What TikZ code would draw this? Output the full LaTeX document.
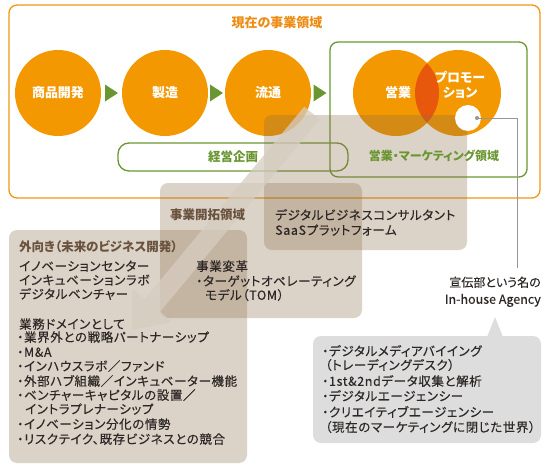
\documentclass[tikz,border=0pt]{standalone}
\usepackage{fontspec}
\setmainfont{Noto Sans CJK JP}[RawFeature={+palt}]
\newfontfamily\jpmed{Noto Sans CJK JP}[RawFeature={+palt}, FakeBold=0.35, LetterSpace=5]
\newfontfamily\jpplain{Noto Sans CJK JP}[RawFeature={+palt}, FakeBold=0.35]
\usetikzlibrary{calc}
\definecolor{orng}{RGB}{243,152,0}
\definecolor{orngline}{RGB}{240,150,20}
\definecolor{orngtxt}{RGB}{236,140,20}
\definecolor{lens}{RGB}{232,88,12}
\definecolor{grn}{RGB}{106,150,50}
\definecolor{boxc}{RGB}{140,109,74}
\definecolor{arrowc}{RGB}{214,204,192}
\definecolor{brn}{RGB}{105,82,62}
\definecolor{txt}{RGB}{45,40,38}
\definecolor{callc}{RGB}{221,221,221}
\definecolor{lgray}{RGB}{150,150,150}
\begin{document}
\begin{tikzpicture}[x=1pt,y=-1pt,
  circ/.style={circle, fill=orng, minimum size=86pt, inner sep=0pt},
  ctext/.style={inner sep=0pt, text=white, font=\bfseries\fontsize{13}{15.5}\selectfont, align=center},
  grnbox/.style={draw=grn, line width=1.3pt, rounded corners=8pt},
  glbl/.style={inner sep=0pt, text=grn, font=\bfseries\fontsize{12.5}{14}\selectfont},
  tbox/.style={fill=boxc, fill opacity=0.3, rounded corners=8pt},
  body/.style={inner sep=0pt, anchor=west, text height=0.88em, text depth=0.12em, text=txt, font=\jpmed\fontsize{12.5}{14}\selectfont},
  head/.style={body, text=brn, font=\bfseries\fontsize{12.5}{14}\selectfont},
  tri/.style={fill=grn}
]
\useasboundingbox (0,0) rectangle (550,469);

% current business area frame
\draw[orngline, line width=1.3pt, rounded corners=8pt] (9,5) rectangle (540,198);
\node[inner sep=0pt, text=orngtxt, font=\bfseries\fontsize{13}{15}\selectfont] (title) at (277,23) {現在の事業領域};

% circles
\node[circ] (c1) at (58,93) {};
\node[circ] (c2) at (165,93) {};
\node[circ] (c3) at (268,93) {};
\node[circ] (c4) at (396,93) {};
\node[circ] (c5) at (458,93) {};
\begin{scope}
  \clip (396,93) circle (43pt);
  \fill[lens] (458,93) circle (43pt);
\end{scope}

% green frames
\draw[grnbox] (330,42) rectangle (527,177);
\draw[grnbox, rounded corners=11pt] (118,143) rectangle (348,171);

% triangles
\coordinate (m1) at ($(c1.east)!0.5!(c2.west)$);
\coordinate (m2) at ($(c2.east)!0.5!(c3.west)$);
\coordinate (m3) at (320,93);
\foreach \m in {m1,m2,m3}{
  \fill[tri] (\m) ++(-6.5,-8.5) -- ++(13,8.5) -- ++(-13,8.5) -- cycle;
}

% circle labels
\node[ctext] (t1) at (c1) {商品開発};
\node[ctext] (t2) at (c2) {製造};
\node[ctext] (t3) at (c3) {流通};
\node[ctext] (t4) at (398,93) {営業};
\node[ctext] (t5) at (460,85) {プロモー\\ション};

% translucent boxes
\fill[tbox] (264,115) rectangle (467,250);
\fill[tbox] (160,183) rectangle (362,318);
\fill[tbox] (9,230) rectangle (247,463);

% big arrow
\fill[arrowc, fill opacity=0.75] (319.7,119.4) -- (160.1,311.8) -- (172.4,322.0) -- (132,330) -- (132.4,288.8) -- (144.7,299.0) -- (304.3,106.6) -- cycle;

% green labels
\node[glbl] (kk) at (233,157) {経営企画};
\node[glbl, font=\bfseries\fontsize{12}{14}\selectfont] (mkl) at (434,156) {営業・マーケティング領域};

% white circle and leader
\fill[white] (468,118) circle (13pt);
\node[circle, fill=lgray, inner sep=0pt, minimum size=4pt] (dot) at (477,118) {};
\coordinate (lend) at (517,268);
\draw[lgray, line width=0.8pt] (dot.center) -| (lend);

% callout
\fill[callc, rounded corners=8pt] (313,336) rectangle (541,443);
\fill[callc] (487,337) -- (495,317) -- (503,337) -- cycle;

% agency label
\node[body, anchor=east, font=\jpplain\fontsize{12}{14}\selectfont] (ag1) at (541,283) {宣伝部という名の};
\node[body, anchor=east, font=\jpplain\fontsize{12.5}{14}\selectfont] (ag2) at (541,300) {In-house Agency};

% box C text
\node[body] (bc1) at (275,216) {デジタルビジネスコンサルタント};
\node[body] (bc2) at (275,231) {SaaSプラットフォーム};

% box B text
\node[head] (bb0) at (170,216) {事業開拓領域};
\node[body] (bb1) at (196,267) {事業変革};
\node[body] (bb2) at (196,282) {・ターゲットオペレーティング};
\node[body] (bb3) at (205,296) {モデル（TOM）};

% box A text
\node[head] (ba0) at (19,248) {外向き（未来のビジネス開発）};
\node[body] (ba1) at (19,267) {イノベーションセンター};
\node[body] (ba2) at (19,281) {インキュベーションラボ};
\node[body] (ba3) at (19,295) {デジタルベンチャー};
\node[body] (ba4) at (19,325) {業務ドメインとして};
\node[body] (ba5) at (17,338) {・業界外との戦略パートナーシップ};
\node[body] (ba6) at (17,353) {・M\&A};
\node[body] (ba7) at (17,367) {・インハウスラボ／ファンド};
\node[body] (ba8) at (17,382) {・外部ハブ組織／インキュベーター機能};
\node[body] (ba9) at (17,396) {・ベンチャーキャピタルの設置／};
\node[body] (ba10) at (25,410) {イントラプレナーシップ};
\node[body] (ba11) at (17,425) {・イノベーション分化の情勢};
\node[body] (ba12) at (17,440) {・リスクテイク、既存ビジネスとの競合};

% callout text
\node[body] (cl1) at (322,352) {・デジタルメディアバイイング};
\node[body] (cl2) at (325,366) {（トレーディングデスク）};
\node[body] (cl3) at (322,382) {・1st\&2ndデータ収集と解析};
\node[body] (cl4) at (322,397) {・デジタルエージェンシー};
\node[body] (cl5) at (322,413) {・クリエイティブエージェンシー};
\node[body] (cl6) at (325,428) {（現在のマーケティングに閉じた世界）};
\end{tikzpicture}
\end{document}
